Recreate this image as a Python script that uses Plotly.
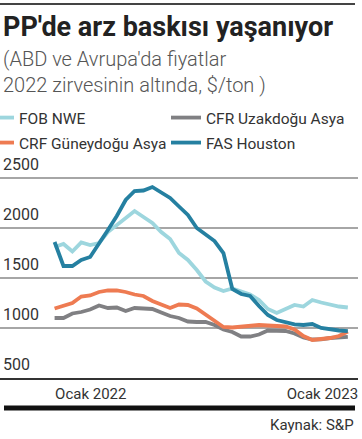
import pandas as pd
import plotly.graph_objects as go

dates = pd.date_range(start="2021-11-05", periods=34, freq="14D")

fob_nwe = [1810, 1840, 1765, 1855, 1830, 1850, 1960, 2030, 2110, 2170,
           2110, 2050, 1960, 1890, 1750, 1680, 1580, 1465, 1405, 1370,
           1395, 1365, 1335, 1280, 1190, 1150, 1185, 1230, 1215, 1280,
           1255, 1235, 1215, 1205]
cfr_uzakdogu = [1100, 1100, 1145, 1160, 1185, 1225, 1200, 1205, 1170, 1200,
                1195, 1190, 1155, 1120, 1100, 1065, 1060, 1060, 1030, 985,
                960, 915, 915, 935, 975, 968, 970, 945, 905, 885,
                887, 900, 905, 912]
crf_guneydogu = [1195, 1220, 1250, 1315, 1325, 1360, 1375, 1375, 1360, 1335,
                 1320, 1270, 1230, 1200, 1235, 1230, 1195, 1130, 1065, 1010,
                 1005, 1015, 1025, 1030, 1025, 1020, 1015, 985, 920, 880,
                 887, 900, 920, 965]
fas_houston = [1860, 1620, 1620, 1680, 1710, 1840, 1980, 2120, 2280, 2370,
               2375, 2410, 2360, 2300, 2215, 2130, 2000, 1935, 1870, 1750,
               1390, 1340, 1320, 1220, 1130, 1080, 1055, 1037, 1030, 1040,
               1000, 985, 975, 968]

series_names = ["FOB NWE", "CFR Uzakdoğu Asya", "CRF Güneydoğu Asya", "FAS Houston"]
y_tickvals = [500, 1000, 1500, 2000, 2500]
x_tickvals = ["2022-01-01", "2023-01-01"]
x_ticktext = ["Ocak 2022", "Ocak 2023"]

colors = ["#9dd6de", "#808083", "#ee7b52", "#2580a1"]
legend_ids = ["legend", "legend2", "legend3", "legend4"]

W, H = 362, 439
TOP, BOTTOM = 172, 378
PW = 358
YMIN, YMAX = 500, 2560
FONT = "Roboto"


def py(pix):
    return (BOTTOM - pix) / (BOTTOM - TOP)


def px(pix):
    return pix / PW


fig = go.Figure()
for name, vals, col, lg in zip(series_names,
                               [fob_nwe, cfr_uzakdogu, crf_guneydogu, fas_houston],
                               colors, legend_ids):
    fig.add_trace(go.Scatter(x=dates, y=vals, mode="lines", name=name,
                             line=dict(color=col, width=3.8), legend=lg,
                             hoverinfo="skip"))

# legend placement (x, row top y)
legend_pos = [(-21, 101), (166, 101), (-21, 126), (166, 126)]
legend_layout = {}
for lg, (lx, ly) in zip(legend_ids, legend_pos):
    legend_layout[lg] = dict(orientation="h", x=px(lx), xanchor="left",
                             y=py(ly), yanchor="top", itemwidth=30,
                             font=dict(size=15.5, color="#333333", family=FONT),
                             bgcolor="rgba(0,0,0,0)", borderwidth=0)

fig.update_layout(
    width=W, height=H,
    margin=dict(l=0, r=W - PW, t=TOP, b=H - BOTTOM, pad=0, autoexpand=False),
    paper_bgcolor="white", plot_bgcolor="white",
    font=dict(family=FONT, color="#333333", size=15),
    showlegend=True,
    **legend_layout,
    xaxis=dict(range=["2021-08-11", "2023-02-26"], tickvals=x_tickvals,
               ticktext=x_ticktext, showgrid=False, zeroline=False,
               showline=True, linecolor="#333333", linewidth=1.8,
               ticks="", tickfont=dict(size=15, color="#333333"),
               ticklabelstandoff=1),
    yaxis=dict(range=[YMIN, YMAX], tickvals=y_tickvals, showgrid=True,
               gridcolor="#a6a6a6", gridwidth=1.6, zeroline=False,
               showline=False, ticks="", ticklabelposition="inside top",
               ticklabeloverflow="allow", ticklabelshift=-2,
               tickfont=dict(size=16, color="#333333"), layer="below traces"),
    annotations=[
        dict(text="<b>PP'de arz baskısı yaşanıyor</b>", x=px(1), xref="paper",
             xanchor="left", y=py(27), yref="paper", yanchor="middle",
             showarrow=False, font=dict(size=27, color="#222222", family=FONT)),
        dict(text="(ABD ve Avrupa'da fiyatlar", x=px(1), xref="paper",
             xanchor="left", y=py(59), yref="paper", yanchor="middle",
             showarrow=False,
             font=dict(size=20, color="#555555", family=FONT, weight=300)),
        dict(text="2022 zirvesinin altında, $/ton )", x=px(1), xref="paper",
             xanchor="left", y=py(85), yref="paper", yanchor="middle",
             showarrow=False,
             font=dict(size=20, color="#555555", family=FONT, weight=300)),
        dict(text="Kaynak: S&P", x=px(356), xref="paper", xanchor="right",
             y=py(425), yref="paper", yanchor="middle", showarrow=False,
             font=dict(size=15, color="#333333", family=FONT)),
    ],
    shapes=[
        dict(type="line", xref="paper", yref="paper", x0=0, x1=px(355),
             y0=py(4), y1=py(4), line=dict(color="#444444", width=1.8)),
        dict(type="line", xref="paper", yref="paper", x0=px(4), x1=px(355),
             y0=py(408), y1=py(408), line=dict(color="#111111", width=5)),
    ],
)

fig.write_html(
    "out.html",
    config={"displayModeBar": False},
    post_script="document.body.style.margin='0';document.body.style.overflow='hidden';",
)
